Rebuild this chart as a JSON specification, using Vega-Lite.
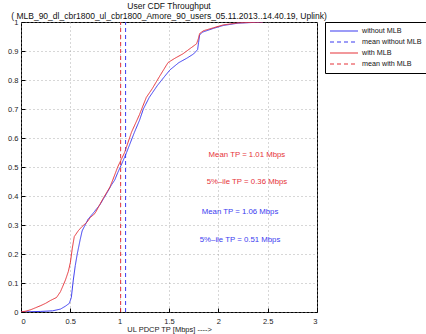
{
  "$schema": "https://vega.github.io/schema/vega-lite/v6.json",
  "width": 296,
  "height": 290,
  "autosize": {"type": "none"},
  "padding": {"left": 21, "top": 22, "right": 109, "bottom": 22},
  "background": "white",
  "config": {
    "font": "Liberation Sans",
    "view": {"stroke": "black", "strokeWidth": 1},
    "axis": {
      "labelFont": "Liberation Sans",
      "labelFontSize": 7.5,
      "labelColor": "#222",
      "labelOverlap": false,
      "titleFont": "Liberation Sans",
      "titleFontWeight": "normal",
      "titleColor": "#222",
      "domain": false,
      "tickColor": "black",
      "tickSize": -4,
      "gridColor": "#999",
      "gridDash": [1, 3],
      "gridWidth": 0.8,
      "gridOpacity": 1
    }
  },
  "title": {
    "text": ["User CDF Throughput", "( MLB_90_dl_cbr1800_ul_cbr1800_Amore_90_users_05.11.2013..14.40.19, Uplink)"],
    "fontSize": 8.5,
    "fontWeight": "normal",
    "font": "Liberation Sans",
    "color": "#111",
    "lineHeight": 10,
    "anchor": "middle",
    "baseline": "bottom",
    "offset": -11
  },
  "datasets": {
    "curves": [
      {"series": "without MLB", "x": 0, "p": 0},
      {"series": "without MLB", "x": 0.2, "p": 0.002},
      {"series": "without MLB", "x": 0.32, "p": 0.004},
      {"series": "without MLB", "x": 0.4, "p": 0.01},
      {"series": "without MLB", "x": 0.45, "p": 0.02},
      {"series": "without MLB", "x": 0.49, "p": 0.03},
      {"series": "without MLB", "x": 0.51, "p": 0.05},
      {"series": "without MLB", "x": 0.53, "p": 0.11},
      {"series": "without MLB", "x": 0.55, "p": 0.16},
      {"series": "without MLB", "x": 0.57, "p": 0.2},
      {"series": "without MLB", "x": 0.6, "p": 0.25},
      {"series": "without MLB", "x": 0.62, "p": 0.28},
      {"series": "without MLB", "x": 0.65, "p": 0.3},
      {"series": "without MLB", "x": 0.68, "p": 0.32},
      {"series": "without MLB", "x": 0.73, "p": 0.34},
      {"series": "without MLB", "x": 0.8, "p": 0.37},
      {"series": "without MLB", "x": 0.87, "p": 0.41},
      {"series": "without MLB", "x": 0.92, "p": 0.44},
      {"series": "without MLB", "x": 0.95, "p": 0.455},
      {"series": "without MLB", "x": 0.98, "p": 0.48},
      {"series": "without MLB", "x": 1.02, "p": 0.51},
      {"series": "without MLB", "x": 1.07, "p": 0.55},
      {"series": "without MLB", "x": 1.15, "p": 0.62},
      {"series": "without MLB", "x": 1.2, "p": 0.66},
      {"series": "without MLB", "x": 1.24, "p": 0.7},
      {"series": "without MLB", "x": 1.3, "p": 0.74},
      {"series": "without MLB", "x": 1.38, "p": 0.78},
      {"series": "without MLB", "x": 1.45, "p": 0.81},
      {"series": "without MLB", "x": 1.51, "p": 0.835},
      {"series": "without MLB", "x": 1.6, "p": 0.86},
      {"series": "without MLB", "x": 1.68, "p": 0.875},
      {"series": "without MLB", "x": 1.75, "p": 0.89},
      {"series": "without MLB", "x": 1.79, "p": 0.905},
      {"series": "without MLB", "x": 1.8, "p": 0.93},
      {"series": "without MLB", "x": 1.81, "p": 0.955},
      {"series": "without MLB", "x": 1.84, "p": 0.965},
      {"series": "without MLB", "x": 1.95, "p": 0.978},
      {"series": "without MLB", "x": 2.05, "p": 0.988},
      {"series": "without MLB", "x": 2.2, "p": 0.996},
      {"series": "without MLB", "x": 2.45, "p": 1.0},
      {"series": "mean without MLB", "x": 1.06, "p": 0},
      {"series": "mean without MLB", "x": 1.06, "p": 1},
      {"series": "with MLB", "x": 0, "p": 0},
      {"series": "with MLB", "x": 0.05, "p": 0.003},
      {"series": "with MLB", "x": 0.1, "p": 0.008},
      {"series": "with MLB", "x": 0.15, "p": 0.015},
      {"series": "with MLB", "x": 0.2, "p": 0.022},
      {"series": "with MLB", "x": 0.25, "p": 0.03},
      {"series": "with MLB", "x": 0.3, "p": 0.04},
      {"series": "with MLB", "x": 0.36, "p": 0.05},
      {"series": "with MLB", "x": 0.4, "p": 0.07},
      {"series": "with MLB", "x": 0.45, "p": 0.11},
      {"series": "with MLB", "x": 0.48, "p": 0.14},
      {"series": "with MLB", "x": 0.5, "p": 0.17},
      {"series": "with MLB", "x": 0.52, "p": 0.22},
      {"series": "with MLB", "x": 0.54, "p": 0.26},
      {"series": "with MLB", "x": 0.58, "p": 0.28},
      {"series": "with MLB", "x": 0.62, "p": 0.295},
      {"series": "with MLB", "x": 0.67, "p": 0.31},
      {"series": "with MLB", "x": 0.7, "p": 0.325},
      {"series": "with MLB", "x": 0.75, "p": 0.34},
      {"series": "with MLB", "x": 0.83, "p": 0.39},
      {"series": "with MLB", "x": 0.9, "p": 0.43},
      {"series": "with MLB", "x": 0.93, "p": 0.455},
      {"series": "with MLB", "x": 0.98, "p": 0.5},
      {"series": "with MLB", "x": 1.05, "p": 0.55},
      {"series": "with MLB", "x": 1.12, "p": 0.62},
      {"series": "with MLB", "x": 1.2, "p": 0.68},
      {"series": "with MLB", "x": 1.27, "p": 0.74},
      {"series": "with MLB", "x": 1.33, "p": 0.77},
      {"series": "with MLB", "x": 1.4, "p": 0.81},
      {"series": "with MLB", "x": 1.49, "p": 0.86},
      {"series": "with MLB", "x": 1.56, "p": 0.875},
      {"series": "with MLB", "x": 1.64, "p": 0.89},
      {"series": "with MLB", "x": 1.72, "p": 0.91},
      {"series": "with MLB", "x": 1.78, "p": 0.925},
      {"series": "with MLB", "x": 1.8, "p": 0.945},
      {"series": "with MLB", "x": 1.81, "p": 0.96},
      {"series": "with MLB", "x": 1.85, "p": 0.97},
      {"series": "with MLB", "x": 1.95, "p": 0.98},
      {"series": "with MLB", "x": 2.05, "p": 0.99},
      {"series": "with MLB", "x": 2.2, "p": 0.997},
      {"series": "with MLB", "x": 2.45, "p": 1.0},
      {"series": "mean with MLB", "x": 1.01, "p": 0},
      {"series": "mean with MLB", "x": 1.01, "p": 1}
    ],
    "notesRed": [
      {"x": 2.29, "p": 0.54, "label": "Mean TP = 1.01 Mbps"},
      {"x": 2.29, "p": 0.45, "label": "5%\u2013ile TP = 0.36 Mbps"}
    ],
    "notesBlue": [
      {"x": 2.22, "p": 0.345, "label": "Mean TP = 1.06 Mbps"},
      {"x": 2.22, "p": 0.25, "label": "5%\u2013ile TP = 0.51 Mbps"}
    ]
  },
  "encoding": {
    "x": {
      "field": "x", "type": "quantitative",
      "scale": {"domain": [0, 3], "nice": false, "zero": false},
      "axis": {"values": [0, 0.5, 1, 1.5, 2, 2.5, 3], "format": "~g", "labelOverlap": false, "title": "UL PDCP TP [Mbps] ---->", "titleFontSize": 7.5, "labelPadding": 9, "titlePadding": 1, "grid": true}
    },
    "y": {
      "field": "p", "type": "quantitative",
      "scale": {"domain": [0, 1], "nice": false, "zero": false},
      "axis": {"values": [0, 0.1, 0.2, 0.3, 0.4, 0.5, 0.6, 0.7, 0.8, 0.9, 1], "format": "~g", "labelOverlap": false, "labelBound": false, "title": "CDF --->", "titleFontSize": 7.5, "labelPadding": 7, "titleX": -22, "titleY": 150, "grid": true}
    }
  },
  "layer": [
    {
      "data": {"name": "curves"},
      "mark": {"type": "line", "strokeWidth": 1, "clip": true},
      "encoding": {
        "color": {
          "field": "series", "type": "nominal",
          "scale": {"domain": ["without MLB", "mean without MLB", "with MLB", "mean with MLB"], "range": ["#3b3bf0", "#3b3bf0", "#e63339", "#e63339"]},
          "legend": {
            "title": null, "orient": "none", "legendX": 304, "legendY": 0,
            "symbolType": "stroke", "symbolSize": 784, "symbolStrokeWidth": 1.2,
            "labelFontSize": 7.2, "labelFont": "Liberation Sans", "labelColor": "#111",
            "strokeColor": "black", "fillColor": "white", "padding": 4,
            "rowPadding": 1, "clipHeight": 10, "labelOffset": 3, "labelLimit": 200,
            "encode": {
              "symbols": {
                "update": {
                  "strokeDash": {"signal": "test(/mean/, datum.value) ? [4, 3] : [1, 0]"}
                }
              }
            }
          }
        },
        "strokeDash": {
          "field": "series", "type": "nominal",
          "scale": {"domain": ["without MLB", "mean without MLB", "with MLB", "mean with MLB"], "range": [[1, 0], [4, 3], [1, 0], [4, 3]]},
          "legend": null
        },
        "order": {"field": "p", "type": "quantitative"}
      }
    },
    {
      "data": {"name": "notesRed"},
      "mark": {"type": "text", "color": "#e63339", "fontSize": 7.8, "font": "Liberation Sans", "align": "center", "baseline": "middle"},
      "encoding": {
        "text": {"field": "label"}
      }
    },
    {
      "data": {"name": "notesBlue"},
      "mark": {"type": "text", "color": "#3b3bf0", "fontSize": 7.8, "font": "Liberation Sans", "align": "center", "baseline": "middle"},
      "encoding": {
        "text": {"field": "label"}
      }
    }
  ]
}
